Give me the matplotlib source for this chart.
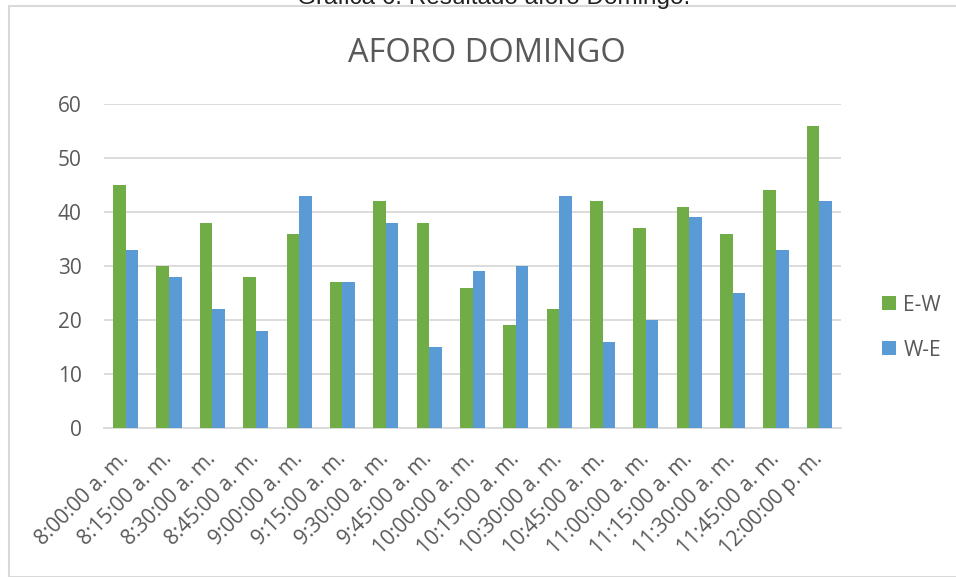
import matplotlib.pyplot as plt
import numpy as np
from matplotlib.patches import Rectangle

# Aforo domingo, conteos cada 15 minutos
horas = ['8:00:00 a. m.', '8:15:00 a. m.', '8:30:00 a. m.', '8:45:00 a. m.',
         '9:00:00 a. m.', '9:15:00 a. m.', '9:30:00 a. m.', '9:45:00 a. m.',
         '10:00:00 a. m.', '10:15:00 a. m.', '10:30:00 a. m.', '10:45:00 a. m.',
         '11:00:00 a. m.', '11:15:00 a. m.', '11:30:00 a. m.', '11:45:00 a. m.',
         '12:00:00 p. m.']
e_w = [45, 30, 38, 28, 36, 27, 42, 38, 26, 19, 22, 42, 37, 41, 36, 44, 56]
w_e = [33, 28, 22, 18, 43, 27, 38, 15, 29, 30, 43, 16, 20, 39, 25, 33, 42]

plt.rcParams['font.family'] = ['Open Sans', 'DejaVu Sans']
gris = '#595959'

fig = plt.figure(figsize=(9.56, 5.77), dpi=100)
W, H = 956, 577
ax = fig.add_axes([104 / W, 1 - 428 / H, 737 / W, 324 / H])

x = np.arange(len(horas))
ancho = 0.29
ax.bar(x - ancho / 2, e_w, ancho, color='#70AD47', label='E-W', zorder=3)
ax.bar(x + ancho / 2, w_e, ancho, color='#5B9BD5', label='W-E', zorder=3)

ax.set_xlim(-0.5, len(horas) - 0.5)
ax.set_ylim(0, 60)
ax.set_yticks(range(0, 61, 10))
ax.yaxis.grid(True, color='#D9D9D9', linewidth=1.3, zorder=0)
for s in ['top', 'right', 'left']:
    ax.spines[s].set_visible(False)
ax.spines['bottom'].set_color('#D9D9D9')
ax.spines['bottom'].set_linewidth(1.3)
ax.tick_params(axis='both', length=0, colors=gris, labelsize=15)
ax.tick_params(axis='y', pad=16)
ax.set_xticks(x)
ax.set_xticklabels(horas, rotation=45, ha='right', va='center', rotation_mode='anchor')
ax.tick_params(axis='x', pad=20)

ax.set_title('AFORO DOMINGO', fontsize=23.5, color=gris, pad=30, x=(487 - 104) / 737)

ax.legend(loc='center left', bbox_to_anchor=((882 - 104) / 737, 0.31), frameon=False,
          fontsize=15, labelcolor=gris, handlelength=0.67, handleheight=0.67,
          handletextpad=0.35, labelspacing=1.15, borderpad=0, borderaxespad=0)

# marco del grafico
fig.patches.append(Rectangle((8.5 / W, 0), 1, 1 - 5.5 / H, transform=fig.transFigure,
                             fill=False, edgecolor='#D9D9D9', linewidth=1.5))
fig.text(494 / W, 1 - 4 / H, 'Gráfica 6. Resultado aforo Domingo.', ha='center',
         va='baseline', fontsize=17.5, family='Liberation Sans', color='#222222')

fig.savefig('out.png', dpi=100)
